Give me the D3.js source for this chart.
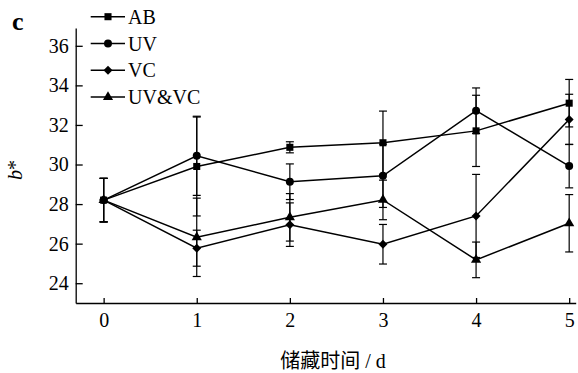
<!DOCTYPE html>
<html>
<head>
<meta charset="utf-8">
<script src="https://cdn.jsdelivr.net/npm/d3@7"></script>
<style>
  body { margin: 0; background: #fff; }
  svg { display: block; font-family: "Liberation Serif", "Noto Sans CJK SC", serif; }
</style>
</head>
<body>
<div id="chart"></div>
<script>
const width = 578;
const height = 373;

// storage days
const days = [0, 1, 2, 3, 4, 5];
const xTicks = [0, 1, 2, 3, 4, 5];
const yTicks = [24, 26, 28, 30, 32, 34, 36];

const seriesNames = ["AB", "UV", "VC", "UV&VC"];
const abValues   = [28.2, 29.9, 30.87, 31.1, 31.7, 33.1];
const abErr      = [1.1, 2.5, 0.28, 1.6, 1.8, 1.2];
const uvValues   = [28.2, 30.44, 29.13, 29.43, 32.72, 29.92];
const uvErr      = [1.1, 2.0, 0.9, 1.6, 1.15, 1.1];
const vcValues   = [28.2, 25.77, 26.96, 25.97, 27.4, 32.28];
const vcErr      = [1.1, 0.91, 1.1, 1.0, 2.1, 1.27];
const uvvcValues = [28.2, 26.32, 27.33, 28.21, 25.18, 27.03];
const uvvcErr    = [1.1, 1.98, 1.2, 1.0, 0.9, 1.45];

// diamond = square turned 45 degrees
const series = [
  { name: seriesNames[0], values: abValues,   err: abErr,   symbol: d3.symbolSquare,   size: 50, rot: 0 },
  { name: seriesNames[1], values: uvValues,   err: uvErr,   symbol: d3.symbolCircle,   size: 50, rot: 0 },
  { name: seriesNames[2], values: vcValues,   err: vcErr,   symbol: d3.symbolSquare,   size: 40, rot: 45 },
  { name: seriesNames[3], values: uvvcValues, err: uvvcErr, symbol: d3.symbolTriangle, size: 45, rot: 0 }
];

const svg = d3.select("#chart").append("svg")
  .attr("width", width)
  .attr("height", height);

const x = d3.scaleLinear().domain([-0.3, 5.07]).range([75.7, 575.7]);
const y = d3.scaleLinear().domain([23, 36.9]).range([303, 28]);

// axes, ticks pointing inward
svg.append("g")
  .attr("transform", "translate(0," + y(23) + ")")
  .call(d3.axisBottom(x).tickValues(xTicks).tickFormat(d3.format("d"))
        .tickSizeInner(-5).tickSizeOuter(0).tickPadding(10))
  .call(g => g.selectAll("text").attr("font-size", 20).attr("fill", "#000").attr("font-family", "Liberation Serif"));

svg.append("g")
  .attr("transform", "translate(" + x(-0.3) + ",0)")
  .call(d3.axisLeft(y).tickValues(yTicks).tickFormat(d3.format("d"))
        .tickSizeInner(-7).tickSizeOuter(0).tickPadding(7))
  .call(g => g.selectAll("text").attr("font-size", 20).attr("fill", "#000").attr("font-family", "Liberation Serif"));

svg.selectAll(".domain, .tick line").attr("stroke", "#000").attr("stroke-width", 1.3);

const line = d3.line()
  .x((d, i) => x(days[i]))
  .y(d => y(d));

const capW = 4;

series.forEach(s => {
  const g = svg.append("g");
  // error bars
  const eb = g.selectAll(".err").data(s.values).join("g")
    .attr("stroke", "#000").attr("stroke-width", 1.2);
  eb.append("line")
    .attr("x1", (d, i) => x(days[i])).attr("x2", (d, i) => x(days[i]))
    .attr("y1", (d, i) => y(d + s.err[i])).attr("y2", (d, i) => y(d - s.err[i]));
  eb.append("line")
    .attr("x1", (d, i) => x(days[i]) - capW).attr("x2", (d, i) => x(days[i]) + capW)
    .attr("y1", (d, i) => y(d + s.err[i])).attr("y2", (d, i) => y(d + s.err[i]));
  eb.append("line")
    .attr("x1", (d, i) => x(days[i]) - capW).attr("x2", (d, i) => x(days[i]) + capW)
    .attr("y1", (d, i) => y(d - s.err[i])).attr("y2", (d, i) => y(d - s.err[i]));

  g.append("path")
    .attr("d", line(s.values))
    .attr("fill", "none")
    .attr("stroke", "#000")
    .attr("stroke-width", 1.5);

  g.selectAll(".pt").data(s.values).join("path")
    .attr("transform", (d, i) => "translate(" + x(days[i]) + "," + y(d) + ") rotate(" + s.rot + ")")
    .attr("d", d3.symbol().type(s.symbol).size(s.size))
    .attr("fill", "#000");
});

// legend
const legend = svg.append("g");
series.forEach((s, i) => {
  const ly = 16.7 + i * 26.8;
  legend.append("line")
    .attr("x1", 90.7).attr("x2", 125).attr("y1", ly).attr("y2", ly)
    .attr("stroke", "#000").attr("stroke-width", 1.5);
  legend.append("path")
    .attr("transform", "translate(108," + ly + ") rotate(" + s.rot + ")")
    .attr("d", d3.symbol().type(s.symbol).size(s.size))
    .attr("fill", "#000");
  legend.append("text")
    .attr("x", 128).attr("y", ly)
    .attr("dy", "0.35em")
    .attr("font-size", 20)
    .text(s.name);
});

// panel letter
svg.append("text")
  .attr("x", 12).attr("y", 30)
  .attr("font-size", 26)
  .attr("font-weight", "bold")
  .text("c");

// y label
svg.append("text")
  .attr("transform", "translate(22,170) rotate(-90)")
  .attr("text-anchor", "middle")
  .attr("font-size", 20)
  .call(t => {
    t.append("tspan").attr("font-style", "italic").text("b");
    t.append("tspan").text("*");
  });

// x label
svg.append("text")
  .attr("x", 333).attr("y", 368)
  .attr("text-anchor", "middle")
  .attr("font-size", 20)
  .text("储藏时间 / d");
</script>
</body>
</html>
